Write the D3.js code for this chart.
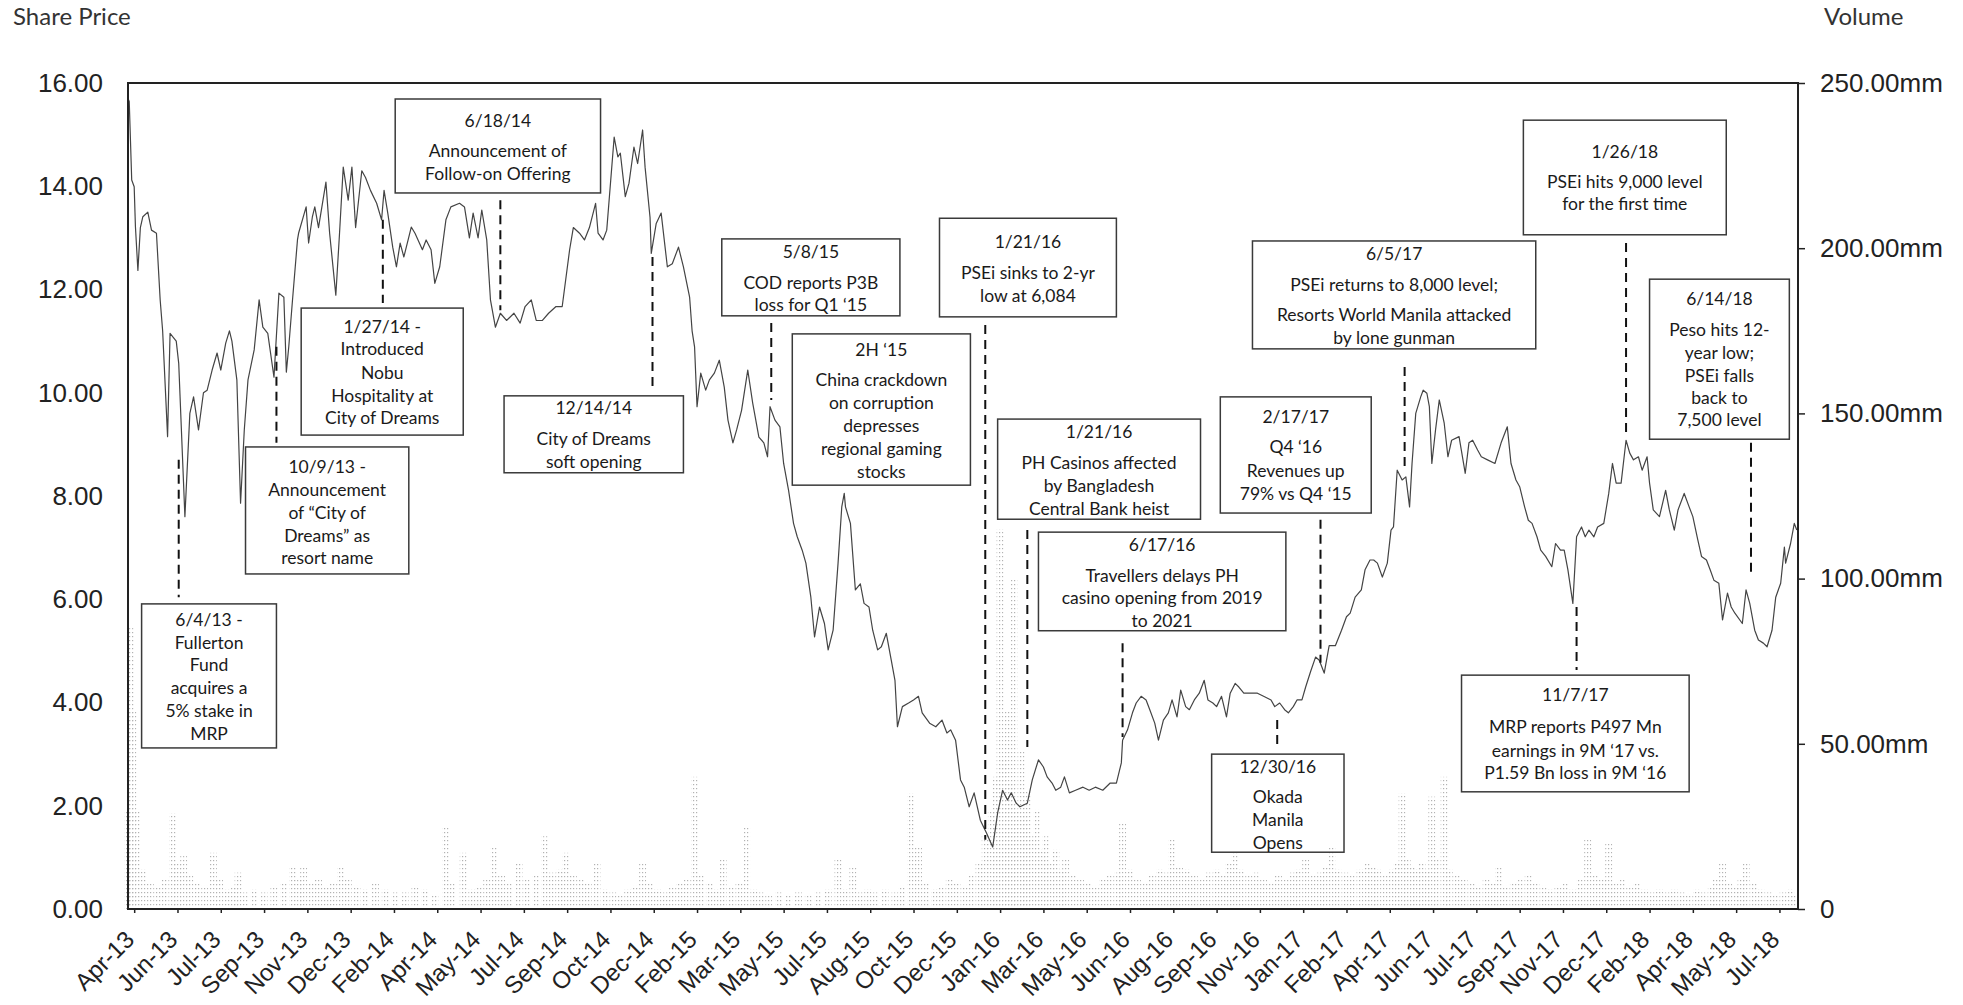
<!DOCTYPE html>
<html>
<head>
<meta charset="utf-8">
<script src="https://cdn.jsdelivr.net/npm/d3@7"></script>
<style>
	body { margin: 0; background: #fff; }
	svg { display: block; }
	.axis text { font-family: 'Liberation Sans', Arial, sans-serif; font-size: 26px; fill: #222; }
	.axis.x text { font-size: 24px; }
	.axis path { display: none; }
	.axis line { stroke: #222; stroke-width: 1.5; }
	.note text { font-family: Lato, 'Open Sans', sans-serif; font-size: 17.5px; fill: #1a1a1a; }
	.note rect { fill: none; stroke: #3a3a3a; stroke-width: 1.5; }
	.leader { stroke: #111; stroke-width: 2; stroke-dasharray: 9,6; }
	.title { font-family: Lato, sans-serif; font-size: 24px; fill: #333; }
</style>
</head>
<body>
<svg id="chart"></svg>
<script>
// trading-day index on the category axis, share price (PHP)
const price = [
	[0, 15.7], [1, 15.64], [3, 14.12], [5, 13.99], [6, 13.22], [8, 12.37], [10, 13.2], [12, 13.41], [16, 13.5], [19, 13.15],
	[23, 13.09], [26, 11.8], [28, 11.2], [32, 9.15], [34, 11.15], [39, 11.0], [41, 10.57], [46, 7.6], [50, 9.6], [53, 9.92],
	[57, 9.28], [61, 10.0], [64, 10.05], [68, 10.44], [72, 10.77], [75, 10.44], [79, 10.96], [82, 11.2], [84, 11.0], [88, 10.25],
	[91, 7.86], [94, 9.28], [97, 10.25], [102, 10.83], [106, 11.8], [109, 11.27], [113, 11.15], [118, 10.3], [122, 11.93], [126, 11.85],
	[128, 10.4], [130, 10.9], [133, 11.8], [137, 12.96], [138, 13.1], [144, 13.6], [146, 12.9], [149, 13.4], [151, 13.6], [154, 13.2],
	[160, 14.08], [163, 13.09], [168, 11.89], [171, 13.09], [174, 14.37], [178, 13.73], [181, 14.37], [184, 13.2], [189, 14.3], [192, 14.17],
	[196, 13.92], [201, 13.67], [205, 13.35], [207, 13.92], [210, 13.48], [214, 12.82], [217, 12.44], [220, 12.9], [223, 12.63], [229, 13.21],
	[232, 13.09], [238, 12.77], [241, 12.96], [245, 12.77], [248, 12.12], [252, 12.44], [257, 13.35], [261, 13.6], [268, 13.67], [272, 13.6],
	[276, 13.0], [279, 13.48], [283, 13.0], [286, 13.54], [290, 12.96], [293, 11.8], [297, 11.27], [301, 11.54], [306, 11.4], [312, 11.54],
	[317, 11.35], [321, 11.67], [326, 11.8], [330, 11.4], [335, 11.4], [340, 11.54], [346, 11.67], [351, 11.67], [357, 12.77], [360, 13.2],
	[365, 13.09], [369, 12.96], [373, 13.2], [378, 13.67], [380, 13.09], [384, 12.96], [387, 13.15], [393, 14.95], [396, 14.57], [398, 14.64],
	[402, 13.8], [405, 14.06], [409, 14.76], [412, 14.44], [416, 15.09], [418, 14.37], [422, 13.4], [423, 12.7], [427, 13.28], [431, 13.48],
	[436, 12.44], [440, 12.5], [445, 12.82], [449, 12.44], [454, 11.85], [456, 11.2], [458, 10.89], [460, 9.73], [463, 10.38], [467, 10.05],
	[470, 10.25], [474, 10.38], [478, 10.63], [482, 10.11], [485, 9.47], [489, 9.03], [492, 9.28], [496, 9.66], [501, 10.44], [505, 9.8],
	[510, 9.14], [514, 9.03], [517, 8.76], [519, 9.73], [523, 9.47], [527, 9.34], [530, 8.63], [534, 8.11], [538, 7.47], [541, 7.21],
	[545, 6.95], [548, 6.7], [552, 6.04], [555, 5.27], [559, 5.85], [563, 5.53], [566, 5.02], [570, 5.4], [574, 6.7], [577, 7.79],
	[579, 8.05], [580, 7.79], [584, 7.47], [588, 6.18], [592, 6.3], [595, 5.92], [599, 5.85], [602, 5.4], [606, 5.02], [609, 5.08],
	[613, 5.34], [617, 4.82], [620, 4.43], [622, 3.53], [626, 3.92], [631, 3.99], [635, 4.05], [639, 4.12], [642, 3.8], [648, 3.6],
	[653, 3.53], [658, 3.66], [662, 3.41], [665, 3.47], [669, 3.27], [673, 2.5], [676, 2.36], [680, 1.98], [684, 2.25], [689, 1.72],
	[694, 1.47], [699, 1.2], [703, 1.86], [707, 2.3], [711, 2.11], [714, 2.25], [718, 2.05], [721, 1.98], [727, 2.05], [731, 2.5],
	[736, 2.89], [740, 2.75], [743, 2.56], [747, 2.44], [750, 2.3], [754, 2.36], [757, 2.56], [761, 2.25], [766, 2.3], [772, 2.36],
	[777, 2.3], [782, 2.36], [788, 2.3], [794, 2.44], [799, 2.44], [803, 2.83], [804, 3.27], [808, 3.47], [812, 3.8], [815, 3.99],
	[819, 4.12], [823, 4.05], [826, 3.86], [830, 3.6], [833, 3.27], [837, 3.66], [841, 3.8], [844, 4.05], [848, 3.72], [851, 4.24],
	[855, 3.92], [858, 3.86], [862, 4.05], [866, 4.18], [870, 4.43], [873, 4.05], [877, 3.99], [880, 3.92], [884, 4.12], [888, 3.72],
	[891, 4.18], [895, 4.37], [898, 4.3], [902, 4.18], [907, 4.18], [913, 4.18], [918, 4.12], [924, 4.05], [927, 3.92], [931, 3.99],
	[935, 3.86], [938, 3.8], [942, 3.92], [945, 4.05], [949, 4.05], [952, 4.3], [956, 4.6], [960, 4.88], [963, 4.82], [967, 4.57],
	[971, 5.1], [976, 5.1], [981, 5.4], [985, 5.66], [988, 5.73], [992, 6.04], [997, 6.18], [1000, 6.57], [1004, 6.76], [1007, 6.76],
	[1010, 6.7], [1014, 6.43], [1018, 6.7], [1021, 7.34], [1023, 7.4], [1026, 8.5], [1030, 8.31], [1033, 8.37], [1036, 7.79], [1038, 8.63],
	[1041, 9.6], [1045, 9.92], [1047, 10.05], [1050, 9.99], [1052, 9.73], [1054, 8.63], [1057, 9.28], [1060, 9.86], [1064, 9.41], [1067, 8.76],
	[1070, 9.08], [1076, 9.15], [1081, 8.44], [1084, 9.03], [1087, 9.08], [1091, 8.89], [1094, 8.76], [1099, 8.7], [1105, 8.63], [1110, 9.03],
	[1115, 9.34], [1118, 8.63], [1122, 8.31], [1125, 8.18], [1129, 7.79], [1132, 7.53], [1135, 7.47], [1139, 7.21], [1142, 6.95], [1146, 6.83],
	[1151, 6.63], [1154, 7.08], [1158, 6.95], [1161, 6.95], [1164, 6.57], [1168, 5.92], [1171, 7.21], [1175, 7.4], [1178, 7.21], [1181, 7.34],
	[1185, 7.21], [1188, 7.4], [1193, 7.47], [1197, 8.05], [1200, 8.63], [1203, 8.25], [1207, 8.25], [1211, 9.08], [1214, 8.83], [1217, 8.7],
	[1221, 8.76], [1224, 8.5], [1228, 8.76], [1230, 8.25], [1233, 7.73], [1238, 7.6], [1243, 8.11], [1246, 7.73], [1250, 7.34], [1253, 7.73],
	[1258, 8.05], [1262, 7.79], [1265, 7.6], [1269, 7.15], [1272, 6.83], [1276, 6.76], [1279, 6.57], [1282, 6.37], [1286, 6.31], [1289, 5.6],
	[1293, 6.12], [1296, 5.85], [1299, 5.73], [1305, 5.53], [1308, 6.18], [1311, 5.92], [1315, 5.4], [1318, 5.21], [1322, 5.15], [1325, 5.08],
	[1329, 5.4], [1332, 6.04], [1336, 6.31], [1339, 7.01], [1340, 6.7], [1344, 7.08], [1347, 7.47], [1349, 7.34],
];

// trading-day index, volume (mm shares)
const volume = [
	[0, 30], [2, 85], [4, 60], [7, 30], [12, 12], [18, 8], [24, 7], [30, 9], [36, 29], [40, 14], [45, 16], [50, 10], [56, 8], [62, 7],
	[69, 17], [74, 9], [80, 6], [86, 7], [89, 11], [95, 5], [102, 6], [110, 5], [118, 7], [126, 8], [133, 13], [138, 9], [142, 13],
	[148, 8], [154, 9], [160, 7], [166, 8], [172, 13], [178, 9], [185, 7], [192, 6], [200, 8], [208, 6], [216, 5], [224, 5], [232, 7],
	[240, 6], [248, 4], [257, 25], [262, 8], [271, 17], [278, 6], [284, 7], [290, 9], [296, 19], [302, 10], [308, 8], [316, 14],
	[322, 9], [330, 10], [337, 22], [343, 11], [349, 12], [354, 17], [360, 10], [366, 9], [372, 8], [379, 14], [386, 6], [392, 5],
	[398, 4], [404, 6], [410, 7], [416, 14], [422, 8], [428, 6], [434, 5], [440, 7], [446, 8], [452, 9], [458, 40], [463, 10],
	[470, 8], [476, 6], [481, 15], [488, 7], [494, 8], [500, 25], [506, 6], [512, 5], [518, 4], [526, 5], [534, 4], [542, 5],
	[550, 4], [558, 5], [566, 6], [574, 15], [580, 6], [586, 13], [592, 5], [598, 6], [604, 5], [612, 6], [620, 5], [626, 7],
	[633, 35], [639, 19], [645, 8], [652, 6], [658, 7], [664, 9], [670, 8], [676, 7], [682, 10], [688, 14], [693, 22], [698, 30],
	[702, 40], [705, 115], [708, 45], [711, 60], [714, 38], [716, 100], [719, 30], [722, 48], [725, 28], [727, 36], [731, 22],
	[735, 30], [739, 18], [742, 22], [746, 14], [750, 18], [754, 12], [758, 15], [764, 10], [770, 9], [776, 8], [782, 7], [788, 9],
	[794, 10], [800, 11], [804, 26], [810, 12], [816, 9], [822, 8], [828, 10], [834, 12], [840, 11], [844, 21], [850, 13], [856, 12],
	[862, 10], [868, 9], [874, 11], [880, 12], [886, 10], [890, 14], [895, 17], [900, 12], [906, 10], [912, 11], [918, 9], [924, 8],
	[930, 10], [936, 9], [942, 11], [946, 12], [952, 15], [958, 10], [964, 11], [968, 13], [973, 19], [978, 12], [984, 11], [990, 10],
	[996, 12], [1002, 14], [1006, 13], [1010, 12], [1016, 10], [1022, 12], [1026, 14], [1030, 35], [1034, 15], [1038, 13], [1042, 12],
	[1046, 14], [1050, 12], [1054, 34], [1058, 15], [1064, 40], [1068, 12], [1074, 10], [1080, 9], [1086, 8], [1092, 7], [1098, 9],
	[1104, 8], [1108, 13], [1114, 7], [1120, 8], [1126, 9], [1132, 10], [1138, 8], [1144, 7], [1150, 6], [1156, 7], [1162, 8],
	[1168, 6], [1174, 9], [1180, 21], [1186, 10], [1192, 9], [1197, 20], [1202, 8], [1208, 9], [1214, 7], [1220, 8], [1226, 6],
	[1232, 5], [1238, 6], [1244, 5], [1250, 6], [1256, 5], [1262, 4], [1268, 6], [1274, 5], [1280, 7], [1284, 9], [1289, 14],
	[1294, 8], [1300, 7], [1304, 9], [1308, 14], [1314, 8], [1320, 6], [1326, 5], [1332, 4], [1338, 5], [1344, 6], [1348, 4],
];

const tickLabels = [
	'Apr-13', 'Jun-13', 'Jul-13', 'Sep-13', 'Nov-13', 'Dec-13', 'Feb-14', 'Apr-14', 'May-14', 'Jul-14',
	'Sep-14', 'Oct-14', 'Dec-14', 'Feb-15', 'Mar-15', 'May-15', 'Jul-15', 'Aug-15', 'Oct-15', 'Dec-15',
	'Jan-16', 'Mar-16', 'May-16', 'Jun-16', 'Aug-16', 'Sep-16', 'Nov-16', 'Jan-17', 'Feb-17', 'Apr-17',
	'Jun-17', 'Jul-17', 'Sep-17', 'Nov-17', 'Dec-17', 'Feb-18', 'Apr-18', 'May-18', 'Jul-18',
];

const priceTicks = [0, 2, 4, 6, 8, 10, 12, 14, 16];
const volumeTicks = [0, 50, 100, 150, 200, 250];

// event text
const noteLines = [
	['6/4/13 -', 'Fullerton', 'Fund', 'acquires a', '5% stake in', 'MRP'],
	['10/9/13 -', 'Announcement', 'of \u201cCity of', 'Dreams\u201d as', 'resort name'],
	['1/27/14 -', 'Introduced', 'Nobu', 'Hospitality at', 'City of Dreams'],
	['6/18/14', 'Announcement of', 'Follow-on Offering'],
	['12/14/14', 'City of Dreams', 'soft opening'],
	['5/8/15', 'COD reports P3B', 'loss for Q1 \u201815'],
	['2H \u201815', 'China crackdown', 'on corruption', 'depresses', 'regional gaming', 'stocks'],
	['1/21/16', 'PSEi sinks to 2-yr', 'low at 6,084'],
	['1/21/16', 'PH Casinos affected', 'by Bangladesh', 'Central Bank heist'],
	['6/17/16', 'Travellers delays PH', 'casino opening from 2019', 'to 2021'],
	['12/30/16', 'Okada', 'Manila', 'Opens'],
	['2/17/17', 'Q4 \u201816', 'Revenues up', '79% vs Q4 \u201815'],
	['6/5/17', 'PSEi returns to 8,000 level;', 'Resorts World Manila attacked', 'by lone gunman'],
	['1/26/18', 'PSEi hits 9,000 level', 'for the first time'],
	['6/14/18', 'Peso hits 12-', 'year low;', 'PSEi falls', 'back to', '7,500 level'],
	['11/7/17', 'MRP reports P497 Mn', 'earnings in 9M \u201817 vs.', 'P1.59 Bn loss in 9M \u201816'],
];

// event leaders: trading day, price from, price to
const leaders = [
	[41, 8.7, 6.04], [120, 10.89, 9.03], [206, 13.35, 11.74], [301, 13.73, 11.6], [424, 12.63, 10.05],
	[520, 11.35, 9.86], [693, 11.31, 1.34], [727, 7.34, 3.14], [804, 5.15, 3.33], [929, 3.66, 3.14],
	[964, 7.54, 4.77], [1032, 10.5, 8.5], [1171, 5.85, 4.63], [1211, 12.9, 9.14], [1312, 9.03, 6.43],
];

// box placement (day left/right, price top/bottom) and line offsets in px
const noteLayout = [
	{box: [11, 120, 5.91, 3.12], dy: [16, 38.5, 61, 84, 107, 130]},
	{box: [95, 227, 8.95, 6.49], dy: [20, 43, 66, 89, 111]},
	{box: [140, 271, 11.64, 9.18], dy: [19, 41, 65, 88, 110]},
	{box: [216, 382, 15.69, 13.87], dy: [22, 52, 75]},
	{box: [304, 449, 9.94, 8.45], dy: [12, 43, 66]},
	{box: [480, 624, 12.98, 11.49], dy: [13, 44, 66]},
	{box: [537, 681, 11.14, 8.21], dy: [16, 46, 69, 92, 115, 138]},
	{box: [656, 799, 13.38, 11.47], dy: [24, 55, 78]},
	{box: [703, 867, 9.49, 7.55], dy: [13, 44, 67, 90]},
	{box: [736, 936, 7.3, 5.39], dy: [13, 44, 66, 89]},
	{box: [876, 983, 3.0, 1.1], dy: [13, 43, 66, 89]},
	{box: [883, 1005, 9.92, 7.67], dy: [20, 50, 74, 97]},
	{box: [909, 1138, 12.94, 10.85], dy: [13, 44, 74, 97]},
	{box: [1128, 1292, 15.28, 13.06], dy: [32, 62, 84]},
	{box: [1230, 1343, 12.2, 9.1], dy: [20, 51, 74, 97, 119, 141]},
	{box: [1078, 1262, 4.53, 2.27], dy: [20, 52, 76, 98]},
];

const width = 1963;
const height = 1005;
const margins = {left: 128, right: 165, top: 83, bottom: 96};
const tradingDays = 1350;
const firstTickDay = 5;
const tickEvery = 35;

const svg = d3.select('#chart')
	.attr('width', width)
	.attr('height', height);

// speckled fill for the volume columns
const dots = svg.append('defs').append('pattern')
	.attr('id', 'dots')
	.attr('width', 3)
	.attr('height', 4)
	.attr('patternUnits', 'userSpaceOnUse');
dots.append('rect')
	.attr('width', 1.2)
	.attr('height', 1.2)
	.attr('fill', '#b2b2b2');

const x = d3.scaleLinear()
	.domain([0, tradingDays])
	.range([margins.left, width - margins.right]);

const yPrice = d3.scaleLinear()
	.domain([0, 16])
	.range([height - margins.bottom, margins.top]);

const yVolume = d3.scaleLinear()
	.domain([0, 250])
	.range([height - margins.bottom, margins.top]);

// volume
svg.append('g')
	.attr('class', 'volume')
	.selectAll('rect')
	.data(volume)
	.join('rect')
	.attr('x', d => x(d[0]) - 3.5)
	.attr('width', 7)
	.attr('y', d => yVolume(d[1]))
	.attr('height', d => yVolume(0) - yVolume(d[1]))
	.attr('fill', 'url(#dots)');

// price line
const line = d3.line()
	.x(d => x(d[0]))
	.y(d => yPrice(d[1]));

svg.append('path')
	.datum(price)
	.attr('d', line)
	.attr('fill', 'none')
	.attr('stroke', '#444')
	.attr('stroke-width', 1.2)
	.attr('stroke-linejoin', 'round');

// frame
svg.append('rect')
	.attr('x', x(0))
	.attr('y', yPrice(16))
	.attr('width', x(tradingDays) - x(0))
	.attr('height', yPrice(0) - yPrice(16))
	.attr('fill', 'none')
	.attr('stroke', '#222')
	.attr('stroke-width', 2);

// axes
svg.append('g')
	.attr('class', 'axis')
	.attr('transform', `translate(${x(0)},0)`)
	.call(d3.axisLeft(yPrice)
		.tickValues(priceTicks)
		.tickFormat(d3.format('.2f'))
		.tickSize(0)
		.tickPadding(25));

svg.append('g')
	.attr('class', 'axis')
	.attr('transform', `translate(${x(tradingDays)},0)`)
	.call(d3.axisRight(yVolume)
		.tickValues(volumeTicks)
		.tickFormat(d => d === 0 ? '0' : `${d3.format('.2f')(d)}mm`)
		.tickSize(7)
		.tickPadding(15));

const tickDays = tickLabels.map((d, i) => firstTickDay + i * tickEvery);

const xAxis = svg.append('g')
	.attr('class', 'axis x')
	.attr('transform', `translate(0,${yPrice(0)})`)
	.call(d3.axisBottom(x)
		.tickValues(tickDays)
		.tickFormat((d, i) => tickLabels[i])
		.tickSize(4));

xAxis.selectAll('text')
	.attr('x', 0)
	.attr('y', 0)
	.attr('dy', 0)
	.attr('text-anchor', 'end')
	.attr('transform', 'translate(1,32) rotate(-45)');

// axis titles
svg.append('text')
	.attr('class', 'title')
	.attr('x', 13)
	.attr('y', 25)
	.text('Share Price');

svg.append('text')
	.attr('class', 'title')
	.attr('x', 1824)
	.attr('y', 25)
	.text('Volume');

// event leaders
svg.append('g')
	.selectAll('line')
	.data(leaders)
	.join('line')
	.attr('class', 'leader')
	.attr('x1', d => x(d[0]))
	.attr('x2', d => x(d[0]))
	.attr('y1', d => yPrice(d[1]))
	.attr('y2', d => yPrice(d[2]));

// event boxes
const note = svg.append('g')
	.selectAll('g.note')
	.data(noteLayout)
	.join('g')
	.attr('class', 'note');

note.append('rect')
	.attr('x', d => x(d.box[0]))
	.attr('y', d => yPrice(d.box[2]))
	.attr('width', d => x(d.box[1]) - x(d.box[0]))
	.attr('height', d => yPrice(d.box[3]) - yPrice(d.box[2]));

note.each(function (d, i) {
	const g = d3.select(this);
	const cx = (x(d.box[0]) + x(d.box[1])) / 2;
	const top = yPrice(d.box[2]);
	g.selectAll('text')
		.data(noteLines[i])
		.join('text')
		.attr('x', cx)
		.attr('y', (t, j) => top + d.dy[j])
		.attr('dy', '0.35em')
		.attr('text-anchor', 'middle')
		.text(t => t);
});
</script>
</body>
</html>
